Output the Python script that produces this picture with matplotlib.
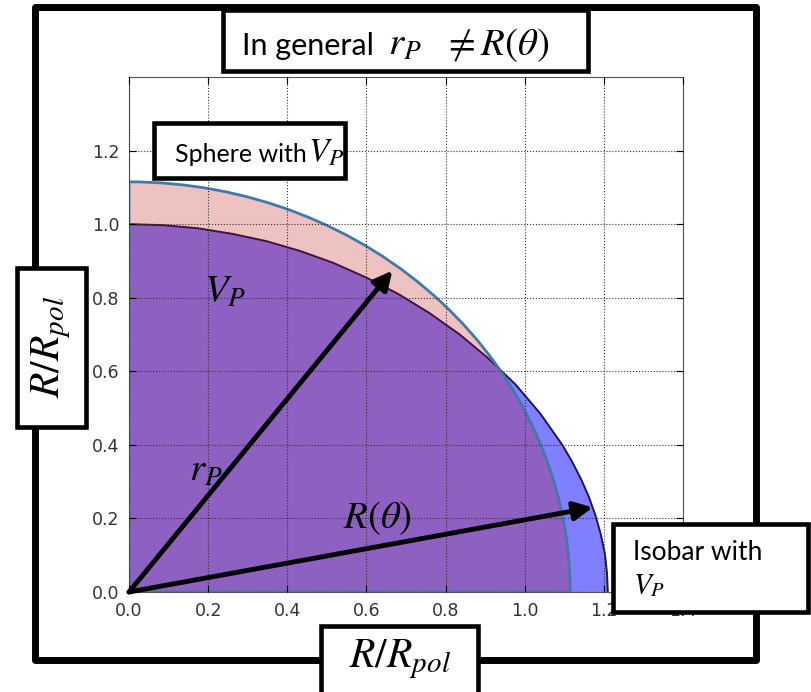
"""Rotating-star sketch: equal-volume sphere vs. Roche isobar, with annotation boxes."""
import numpy as np
import matplotlib
matplotlib.use("Agg")
import matplotlib.pyplot as plt
from matplotlib.patches import Rectangle, Wedge

# radius of the sphere holding the same volume V_P (units of R_pol)
SPHERE_RADIUS = 1.115

# isobar radius R(theta) against latitude, equator -> pole
ISOBAR_LAT_DEG = [0, 2.5, 5, 7.5, 10, 12.5, 15, 17.5, 20, 25, 30, 35, 40, 45,
                  50, 55, 60, 65, 70, 75, 80, 85, 90]
ISOBAR_RADIUS = [1.210, 1.209, 1.207, 1.2025, 1.197, 1.1907, 1.183, 1.1747, 1.166,
                 1.147, 1.128, 1.108, 1.090, 1.073, 1.058, 1.044, 1.033, 1.023,
                 1.015, 1.008, 1.004, 1.001, 1.000]

# directions of the two radius arrows (r_P, R(theta)), degrees
ARROW_DEG = [52.7, 11.1]

X_TICKS = [0.0, 0.2, 0.4, 0.6, 0.8, 1.0, 1.2, 1.4]
Y_TICKS = [0.0, 0.2, 0.4, 0.6, 0.8, 1.0, 1.2]

W, H = 811, 692
BOX_FONT = "Lato"

plt.rcParams["mathtext.fontset"] = "stix"


def fx(px):
    return px / W


def fy(py):
    return 1 - py / H


def box(fig, x0, y0, x1, y1, lw=3.3):
    fig.add_artist(Rectangle((fx(x0), fy(y1)), fx(x1) - fx(x0), fy(y0) - fy(y1),
                             transform=fig.transFigure, fc="white", ec="k",
                             lw=lw, zorder=5, clip_on=False))


def label(fig, x, y, s, size, **kw):
    kw.setdefault("ha", "left")
    kw.setdefault("va", "baseline")
    fig.text(fx(x), fy(y), s, fontsize=size, zorder=6, **kw)


def main() -> None:
    fig = plt.figure(figsize=(W / 100, H / 100), dpi=100)
    ax = fig.add_axes([fx(129), fy(592), fx(683) - fx(129), fy(77) - fy(592)])

    lat = np.radians(ISOBAR_LAT_DEG)
    rad = np.array(ISOBAR_RADIUS)
    iso_x, iso_y = rad * np.cos(lat), rad * np.sin(lat)

    ax.fill(np.r_[0, iso_x], np.r_[0, iso_y], fc=(0, 0, 1, 0.5), ec="none", zorder=1)
    ax.plot(iso_x, iso_y, color="#1a1a50", lw=1.4, zorder=1.5)
    ax.add_patch(Wedge((0, 0), SPHERE_RADIUS, 0, 90, fc=(0.75, 0, 0, 0.24),
                       ec="#3f7aae", lw=2, zorder=2))

    ax.set_xlim(0, 1.4)
    ax.set_ylim(0, 1.4)
    ax.set_xticks(X_TICKS)
    ax.set_yticks(Y_TICKS)
    ax.set_xticklabels([f"{v:.1f}" for v in X_TICKS])
    ax.set_yticklabels([f"{v:.1f}" for v in Y_TICKS])
    ax.grid(True, ls=":", color="#333", lw=0.8)
    ax.set_axisbelow(False)
    ax.tick_params(direction="in", top=True, right=True, labelsize=12.5,
                   labelcolor="#333", pad=7, length=5)
    for sp in ax.spines.values():
        sp.set_color("#555")

    # r_P reaches the sphere, R(theta) reaches the isobar
    lengths = [SPHERE_RADIUS * 0.985,
               np.interp(ARROW_DEG[1], ISOBAR_LAT_DEG, ISOBAR_RADIUS)]
    for ang, L in zip(ARROW_DEG, lengths):
        a = np.radians(ang)
        ax.annotate("", xy=(L * np.cos(a), L * np.sin(a)), xytext=(0, 0),
                    arrowprops=dict(arrowstyle="-|>,head_length=0.7,head_width=0.35",
                                    color="k", lw=3.5, mutation_scale=16,
                                    shrinkA=0, shrinkB=0), zorder=4)

    ax.text(0.243, 0.818, r"$V_P$", fontsize=28, ha="center", va="center", zorder=4)
    ax.text(0.195, 0.332, r"$r_P$", fontsize=28, ha="center", va="center", zorder=4)
    ax.text(0.629, 0.201, r"$R(\theta)$", fontsize=28, ha="center", va="center", zorder=4)

    # outer frame and label boxes
    fig.add_artist(Rectangle((fx(35), fy(660)), fx(756) - fx(35), fy(7) - fy(660),
                             transform=fig.transFigure, fc="none", ec="k", lw=5,
                             joinstyle="round", zorder=4, clip_on=False))
    box(fig, 223, 10, 588, 71)
    box(fig, 17, 268, 86, 427)
    box(fig, 321, 626, 478, 700)
    box(fig, 154, 123, 345, 178)
    box(fig, 613, 524, 808, 612)

    label(fig, 242, 55, "In general", 22, family=BOX_FONT)
    label(fig, 388, 55, r"$r_P$", 28)
    label(fig, 443, 55, r"$\neq R(\theta)$", 28)

    label(fig, 51, 347, r"$R/R_{pol}$", 30, rotation=90, ha="center", va="center")
    label(fig, 400, 667, r"$R/R_{pol}$", 30, ha="center")

    label(fig, 175, 162, "Sphere with", 18, family=BOX_FONT)
    label(fig, 308, 162, r"$V_P$", 24)
    label(fig, 633, 560, "Isobar with", 19, family=BOX_FONT)
    label(fig, 633, 593, r"$V_P$", 21)

    fig.savefig("out.png", dpi=100)
    plt.close(fig)


if __name__ == "__main__":
    main()
